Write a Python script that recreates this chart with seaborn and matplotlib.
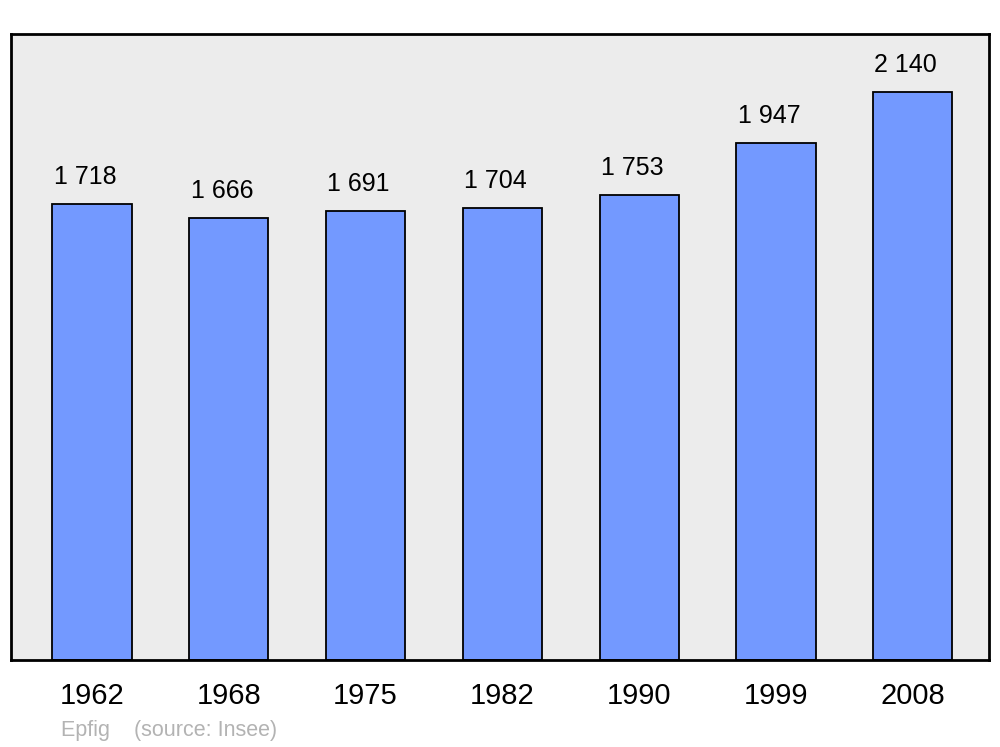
import matplotlib
matplotlib.use("Agg")
import matplotlib.pyplot as plt
import seaborn as sns
import pandas as pd

years = ["1962", "1968", "1975", "1982", "1990", "1999", "2008"]
population = [1718, 1666, 1691, 1704, 1753, 1947, 2140]
value_labels = ["1 718", "1 666", "1 691", "1 704", "1 753", "1 947", "2 140"]

sns.set_theme(style="white")
plt.rcParams['font.family'] = ['Liberation Sans', 'DejaVu Sans']

df = pd.DataFrame({"year": years, "pop": population})

fig = plt.figure(figsize=(10, 7.47), dpi=100)
ax = fig.add_axes([0.011, 0.1165, 0.978, 0.838])
ax.set_facecolor("#ececec")

sns.barplot(data=df, x="year", y="pop", color="#7399ff", saturation=1,
            width=0.58, edgecolor="black", linewidth=1.3, ax=ax)

for i, (v, lab) in enumerate(zip(population, value_labels)):
    ax.annotate(lab, xy=(i, v), xytext=(-5, 19.5), textcoords="offset points",
                ha="center", va="center", fontsize=18, color="black")

ax.set_xlim(-0.592, 6.557)
ax.set_ylim(0, 2359)
ax.set_yticks([])
ax.set_xlabel("")
ax.set_ylabel("")
ax.tick_params(axis="x", length=0, pad=16, labelsize=21, colors="black")
for s in ax.spines.values():
    s.set_visible(True)
    s.set_color("black")
    s.set_linewidth(2)

fig.text(0.061, 0.022, "Epfig    (source: Insee)", color="#b3b3b3", fontsize=15.5,
         ha="left", va="center")

fig.savefig("out.png", dpi=100, facecolor="white")
